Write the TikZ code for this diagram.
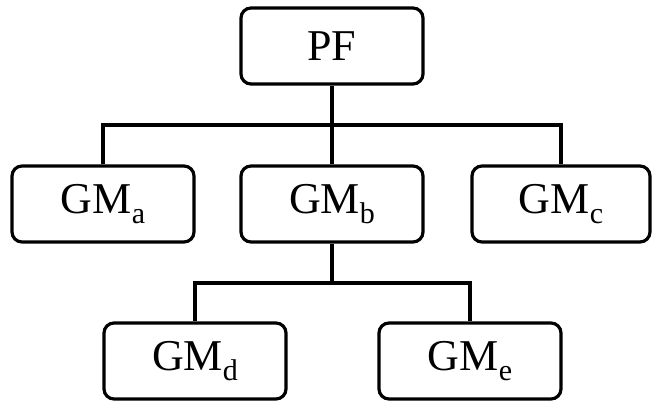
\documentclass[tikz,border=0pt]{standalone}
\usepackage{fontspec}
\setmainfont{Liberation Serif}

\newcommand{\gm}[1]{GM\raisebox{-10pt}{\fontsize{30}{30}\selectfont #1}}

\begin{document}
\begin{tikzpicture}[x = 1pt, y = 1pt, line width = 3.2pt,
		box/.style = {draw, rounded corners = 10pt, minimum width = 182pt, minimum height = 76pt, inner sep = 0pt, font = \fontsize{44}{50}\selectfont}]
		\def\xMAX{653};
		\def\yMAX{402};

		\useasboundingbox (0,0) rectangle (\xMAX,\yMAX);

		\coordinate (upper) at (0,277);
		\coordinate (lower) at (0,119);

		% top level
		\node [box] (PF) at (332,356) {PF};

		% second level
		\node [box] (GMa) at (103,198) {\gm{a}};
		\node [box] (GMb) at (332,198) {\gm{b}};
		\node [box, minimum width = 178pt] (GMc) at (561,198) {\gm{c}};

		% third level
		\node [box] (GMd) at (195,41) {\gm{d}};
		\node [box] (GMe) at (470,41) {\gm{e}};

		\draw (PF.south) -- (GMb.north);
		\draw (GMa.north) -- (GMa.north |- upper) -| (GMc.north);

		\draw (GMb.south) -- (GMb.south |- lower);
		\draw (GMd.north) -- (GMd.north |- lower) -| (GMe.north);
	\end{tikzpicture}
\end{document}
